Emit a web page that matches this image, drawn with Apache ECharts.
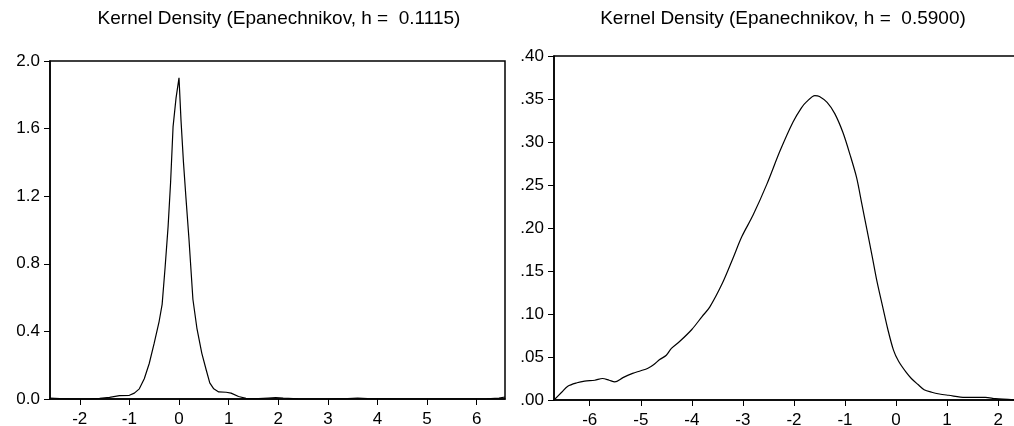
<!DOCTYPE html>
<html>
<head>
<meta charset="utf-8">
<script src="https://cdn.jsdelivr.net/npm/echarts@6/dist/echarts.min.js"></script>
<style>
html,body{margin:0;padding:0;background:#fff;}
#chart{width:1014px;height:426px;}
</style>
</head>
<body>
<div id="chart"></div>
<script>
var leftTitle = 'Kernel Density (Epanechnikov, h =  0.1115)';
var rightTitle = 'Kernel Density (Epanechnikov, h =  0.5900)';

var leftX = [-2.6,-2.4,-2.2,-2.0,-1.8,-1.6,-1.4,-1.2,-1.0,-0.9,-0.8,-0.7,-0.6,-0.5,-0.4,-0.34,-0.28,-0.22,-0.17,-0.12,-0.06,0.0,0.04,0.09,0.14,0.2,0.28,0.36,0.46,0.55,0.62,0.7,0.8,0.95,1.05,1.2,1.35,1.6,1.8,1.95,2.1,2.4,3.0,3.4,3.6,3.8,4.5,5.5,6.2,6.45,6.57];
var leftY = [0.006,0.003,0.001,0.000,0.001,0.004,0.010,0.020,0.022,0.035,0.060,0.12,0.21,0.33,0.46,0.56,0.78,1.02,1.28,1.61,1.78,1.90,1.65,1.40,1.19,0.95,0.59,0.42,0.27,0.17,0.095,0.06,0.042,0.040,0.035,0.015,0.004,0.002,0.006,0.009,0.006,0.001,0.000,0.002,0.006,0.002,0.000,0.000,0.001,0.005,0.012];

var rightX = [-6.7,-6.55,-6.43,-6.25,-6.1,-5.9,-5.75,-5.62,-5.51,-5.35,-5.16,-5.0,-4.86,-4.75,-4.63,-4.5,-4.4,-4.24,-4.0,-3.8,-3.65,-3.4,-3.2,-3.02,-2.8,-2.53,-2.27,-2.02,-1.85,-1.75,-1.59,-1.5,-1.35,-1.2,-1.04,-0.9,-0.77,-0.67,-0.57,-0.47,-0.37,-0.26,-0.16,-0.05,0.05,0.2,0.3,0.43,0.55,0.7,0.85,1.03,1.35,1.75,1.95,2.35];
var rightY = [0.000,0.009,0.016,0.020,0.022,0.023,0.025,0.023,0.021,0.026,0.031,0.034,0.037,0.041,0.047,0.052,0.060,0.068,0.082,0.097,0.108,0.136,0.164,0.190,0.215,0.251,0.290,0.323,0.340,0.347,0.354,0.353,0.346,0.333,0.311,0.285,0.258,0.228,0.198,0.168,0.137,0.108,0.082,0.058,0.045,0.032,0.025,0.018,0.012,0.009,0.007,0.0055,0.003,0.003,0.0015,0.000];

var leftXTicks = [-2,-1,0,1,2,3,4,5,6];
var rightXTicks = [-6,-5,-4,-3,-2,-1,0,1,2];

var FONT = '"Liberation Sans", Arial, sans-serif';
var chart = echarts.init(document.getElementById('chart'));

function xAxisCfg(gi, min, max, ticks) {
  return {
    type: 'value', gridIndex: gi, min: min, max: max,
    axisLine: {show: true, onZero: false, lineStyle: {color: '#000', width: 1.5}},
    axisTick: {show: true, length: 6, customValues: ticks, lineStyle: {color: '#000', width: 1}},
    axisLabel: {show: true, customValues: ticks, margin: 12, color: '#000', fontSize: 17, fontFamily: FONT},
    splitLine: {show: false}
  };
}
function yAxisCfg(gi, max, interval, fmt) {
  return {
    type: 'value', gridIndex: gi, min: 0, max: max, interval: interval,
    axisLine: {show: true, onZero: false, lineStyle: {color: '#000', width: 1.5}},
    axisTick: {show: true, length: 6, lineStyle: {color: '#000', width: 1}},
    axisLabel: {show: true, margin: 10, color: '#000', fontSize: 17, fontFamily: FONT, formatter: fmt},
    splitLine: {show: false}
  };
}

chart.setOption({
  animation: false,
  backgroundColor: '#fff',
  graphic: [
    {type: 'text', x: 279, y: 19, style: {text: leftTitle, font: '19px ' + FONT, fill: '#000', align: 'center', verticalAlign: 'middle', textAlign: 'center', textVerticalAlign: 'middle'}},
    {type: 'text', x: 783, y: 19, style: {text: rightTitle, font: '19px ' + FONT, fill: '#000', align: 'center', verticalAlign: 'middle', textAlign: 'center', textVerticalAlign: 'middle'}}
  ],
  grid: [
    {left: 50, top: 61, width: 455, height: 338, show: true, borderColor: '#000', borderWidth: 1.5, backgroundColor: 'transparent', containLabel: false, outerBoundsMode: 'none'},
    {left: 554, top: 56, width: 462, height: 344, show: true, borderColor: '#000', borderWidth: 1.5, backgroundColor: 'transparent', containLabel: false, outerBoundsMode: 'none'}
  ],
  xAxis: [
    xAxisCfg(0, -2.6, 6.57, leftXTicks),
    xAxisCfg(1, -6.7, 2.35, rightXTicks)
  ],
  yAxis: [
    yAxisCfg(0, 2.0, 0.4, function (v) { return v.toFixed(1); }),
    yAxisCfg(1, 0.4, 0.05, function (v) { return v.toFixed(2).replace(/^0/, ''); })
  ],
  series: [
    {type: 'line', xAxisIndex: 0, yAxisIndex: 0, showSymbol: false, smooth: false,
     lineStyle: {color: '#000', width: 1.2},
     data: leftX.map(function (x, i) { return [x, leftY[i]]; })},
    {type: 'line', xAxisIndex: 1, yAxisIndex: 1, showSymbol: false, smooth: 0.3,
     lineStyle: {color: '#000', width: 1.2},
     data: rightX.map(function (x, i) { return [x, rightY[i]]; })}
  ]
});
</script>
</body>
</html>
